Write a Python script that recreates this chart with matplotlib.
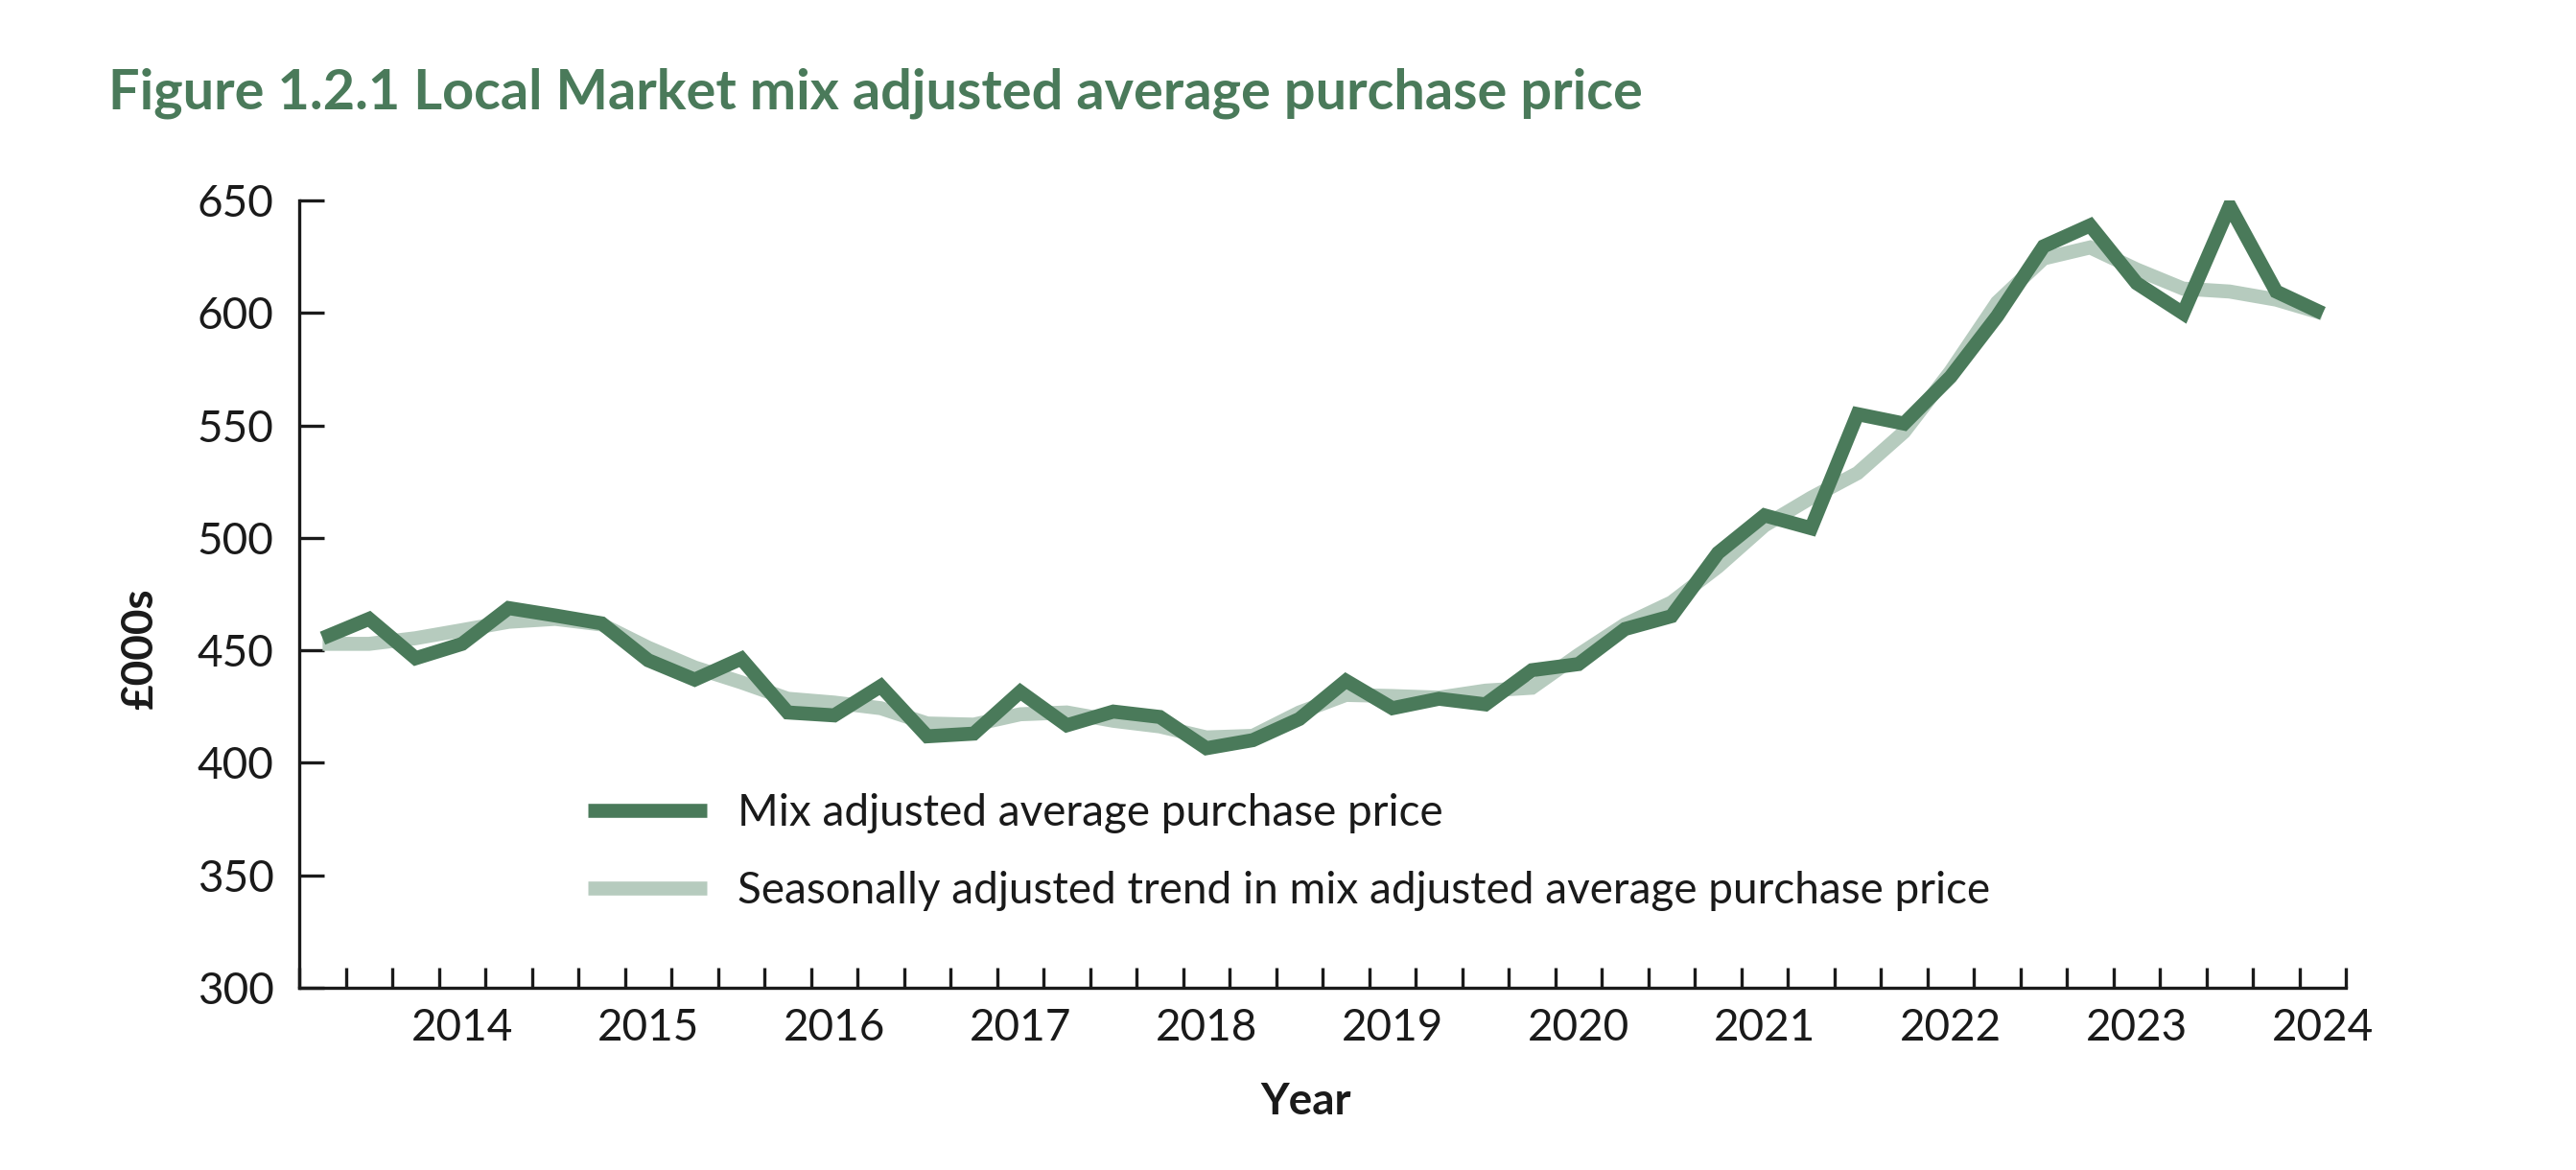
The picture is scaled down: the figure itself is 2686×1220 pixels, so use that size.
import matplotlib.pyplot as plt
import numpy as np

plt.rcParams['font.family'] = ['Lato', 'DejaVu Sans']

# quarterly, 2013 Q2 .. 2024 Q1 (£000s)
mix_price = [455.4, 464.0, 446.5, 452.9, 468.8, 465.5, 462.0, 445.6, 437.0, 446.3,
             422.4, 421.1, 434.1, 411.8, 413.0, 431.6, 416.7, 422.8, 420.4, 406.5,
             410.1, 419.5, 436.5, 424.3, 428.5, 426.0, 441.2, 443.9, 459.5, 465.2,
             493.3, 510.0, 504.3, 555.0, 550.8, 571.6, 598.5, 629.6, 638.9, 613.2,
             599.8, 647.5, 609.5, 599.8]
trend_price = [452.9, 452.9, 455.4, 459.0, 462.7, 464.0, 461.5, 451.2, 442.4, 435.8,
               428.5, 426.8, 424.3, 417.5, 417.0, 421.6, 422.4, 418.7, 416.2, 411.3,
               412.0, 422.4, 430.2, 429.7, 429.0, 432.1, 433.4, 448.0, 461.5, 471.3,
               487.2, 505.5, 517.8, 528.8, 547.1, 574.0, 604.7, 624.2, 629.1, 619.3,
               610.8, 609.5, 605.9, 599.8]
year_labels = ['2014', '2015', '2016', '2017', '2018', '2019',
               '2020', '2021', '2022', '2023', '2024']
year_label_idx = [3, 7, 11, 15, 19, 23, 27, 31, 35, 39, 43]
y_ticks = [300, 350, 400, 450, 500, 550, 600, 650]

DARK = '#4a7a5a'
LIGHT = '#b6cbbe'
FS = 33

fig = plt.figure(figsize=(26.86, 12.2), dpi=100)
ax = fig.add_axes([0.1162, 0.1557, 0.7945, 0.673])

x = np.arange(len(mix_price))
ax.plot(x, trend_price, color=LIGHT, lw=10.5, solid_joinstyle='miter',
        solid_capstyle='butt', label='Seasonally adjusted trend in mix adjusted average purchase price',
        zorder=2)
ax.plot(x, mix_price, color=DARK, lw=10.5, solid_joinstyle='miter',
        solid_capstyle='butt', label='Mix adjusted average purchase price', zorder=3)

ax.set_xlim(-0.5, len(mix_price) - 0.5)
ax.set_ylim(300, 650)

# quarter boundaries as tick marks, year labels at category centres
ax.set_xticks(np.arange(len(mix_price) + 1) - 0.5)
ax.set_xticklabels([])
ax.set_xticks(year_label_idx, minor=True)
ax.set_xticklabels(year_labels, minor=True)
ax.tick_params(axis='x', which='major', direction='in', length=15, width=2.4, color='#1a1a1a')
ax.tick_params(axis='x', which='minor', length=0, pad=15, labelsize=FS, labelcolor='#1a1a1a')

ax.set_yticks(y_ticks)
ax.tick_params(axis='y', direction='in', length=19, width=2.4, pad=19,
               labelsize=FS, labelcolor='#1a1a1a', color='#1a1a1a')

for side in ['top', 'right']:
    ax.spines[side].set_visible(False)
for side in ['left', 'bottom']:
    ax.spines[side].set_linewidth(2.4)
    ax.spines[side].set_color('#1a1a1a')

ax.set_ylabel('£000s', fontsize=FS, fontweight='bold', color='#1a1a1a')
ax.yaxis.label.set_va('center')
ax.yaxis.set_label_coords(-0.0778, 0.43)
ax.set_xlabel('Year', fontsize=FS, fontweight='bold', color='#1a1a1a')
ax.xaxis.label.set_va('center')
ax.xaxis.set_label_coords(0.492, -0.145)

handles, labels = ax.get_legend_handles_labels()
leg = ax.legend(handles[::-1], labels[::-1], loc='upper left',
                bbox_to_anchor=(613 / 2686, 1 - 827 / 1220), bbox_transform=fig.transFigure,
                frameon=False, fontsize=FS, handlelength=2.7, handletextpad=0.7,
                labelspacing=0.85, borderpad=0, borderaxespad=0)
for t in leg.get_texts():
    t.set_color('#1a1a1a')

fig.text(113 / 2686, 1 - 97 / 1220, 'Figure 1.2.1 Local Market mix adjusted average purchase price',
         fontsize=41.5, fontweight='bold', color=DARK, va='center', ha='left')

fig.savefig('out.png', dpi=100, facecolor='white')
